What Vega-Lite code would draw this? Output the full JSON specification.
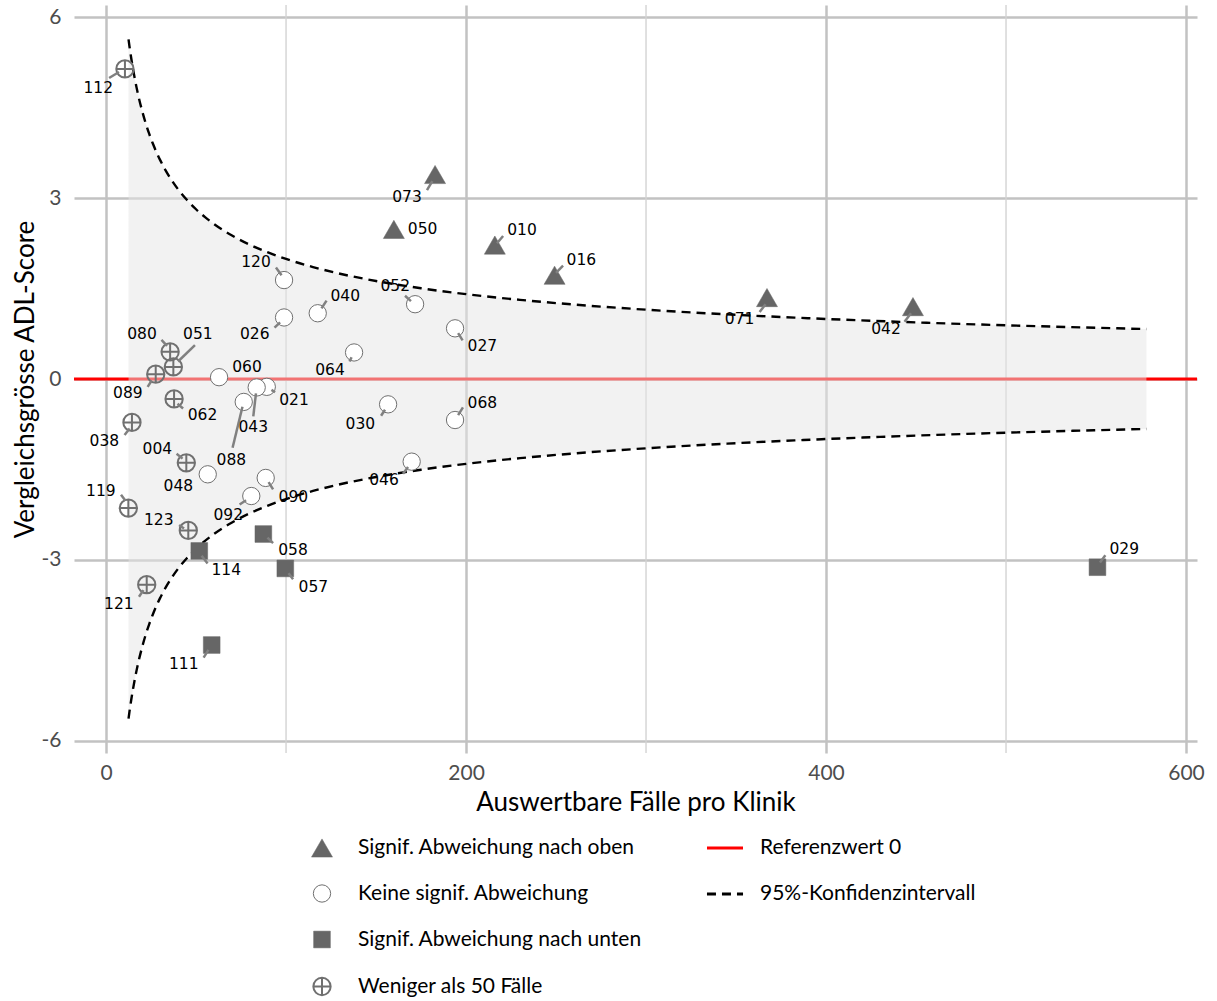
{
  "$schema": "https://vega.github.io/schema/vega-lite/v6.json",
  "width": 1123,
  "height": 748,
  "autosize": {"type": "none"},
  "padding": {"left": 74, "top": 5, "right": 20, "bottom": 248},
  "background": "white",
  "config": {
    "font": "Lato",
    "view": {"stroke": null},
    "axis": {
      "grid": true,
      "gridColor": "#c2c2c2",
      "gridWidth": 2.5,
      "domain": false,
      "ticks": false,
      "labelFont": "Lato",
      "labelFontSize": 21,
      "labelColor": "#4d4d4d",
      "titleFont": "Lato",
      "titleFontSize": 26,
      "titleFontWeight": "normal",
      "titleColor": "#000000"
    },
    "axisX": {"labelPadding": 9, "titlePadding": 6},
    "axisY": {"labelPadding": 13, "titlePadding": 3},
    "legend": {
      "labelFont": "Lato",
      "labelFontSize": 21,
      "labelColor": "#000000",
      "labelLimit": 400,
      "title": null
    }
  },
  "datasets": {
    "funnel": [
      {"n": 12.5, "hi": 5.629, "lo": -5.629},
      {"n": 13, "hi": 5.519, "lo": -5.519},
      {"n": 13.5, "hi": 5.416, "lo": -5.416},
      {"n": 14, "hi": 5.318, "lo": -5.318},
      {"n": 15, "hi": 5.138, "lo": -5.138},
      {"n": 16, "hi": 4.975, "lo": -4.975},
      {"n": 17, "hi": 4.826, "lo": -4.826},
      {"n": 18, "hi": 4.69, "lo": -4.69},
      {"n": 20, "hi": 4.45, "lo": -4.45},
      {"n": 22, "hi": 4.243, "lo": -4.243},
      {"n": 24, "hi": 4.062, "lo": -4.062},
      {"n": 26, "hi": 3.903, "lo": -3.903},
      {"n": 28, "hi": 3.761, "lo": -3.761},
      {"n": 30, "hi": 3.633, "lo": -3.633},
      {"n": 33, "hi": 3.464, "lo": -3.464},
      {"n": 36, "hi": 3.317, "lo": -3.317},
      {"n": 40, "hi": 3.146, "lo": -3.146},
      {"n": 45, "hi": 2.967, "lo": -2.967},
      {"n": 50, "hi": 2.814, "lo": -2.814},
      {"n": 55, "hi": 2.683, "lo": -2.683},
      {"n": 60, "hi": 2.569, "lo": -2.569},
      {"n": 70, "hi": 2.379, "lo": -2.379},
      {"n": 80, "hi": 2.225, "lo": -2.225},
      {"n": 90, "hi": 2.098, "lo": -2.098},
      {"n": 100, "hi": 1.99, "lo": -1.99},
      {"n": 115, "hi": 1.856, "lo": -1.856},
      {"n": 130, "hi": 1.745, "lo": -1.745},
      {"n": 150, "hi": 1.625, "lo": -1.625},
      {"n": 175, "hi": 1.504, "lo": -1.504},
      {"n": 200, "hi": 1.407, "lo": -1.407},
      {"n": 230, "hi": 1.312, "lo": -1.312},
      {"n": 260, "hi": 1.234, "lo": -1.234},
      {"n": 300, "hi": 1.149, "lo": -1.149},
      {"n": 350, "hi": 1.064, "lo": -1.064},
      {"n": 400, "hi": 0.995, "lo": -0.995},
      {"n": 450, "hi": 0.938, "lo": -0.938},
      {"n": 500, "hi": 0.89, "lo": -0.89},
      {"n": 550, "hi": 0.849, "lo": -0.849},
      {"n": 578, "hi": 0.828, "lo": -0.828}
    ],
    "kliniken": [
      {"id": "112", "n": 10.5, "score": 5.14, "cat": "Weniger als 50 Fälle", "lx": -4.3, "ly": 4.82, "sx": 7.2, "sy": 5.09, "ex": 1.7, "ey": 4.99},
      {"id": "073", "n": 182.8, "score": 3.39, "cat": "Signif. Abweichung nach oben", "lx": 167.2, "ly": 3.02, "sx": 181.3, "sy": 3.28, "ex": 178.3, "ey": 3.13},
      {"id": "050", "n": 159.9, "score": 2.48, "cat": "Signif. Abweichung nach oben", "lx": 175.9, "ly": 2.49, "sx": null, "sy": null, "ex": null, "ey": null},
      {"id": "010", "n": 216.0, "score": 2.22, "cat": "Signif. Abweichung nach oben", "lx": 231.1, "ly": 2.47, "sx": 217.2, "sy": 2.25, "ex": 220.6, "ey": 2.37},
      {"id": "016", "n": 249.2, "score": 1.72, "cat": "Signif. Abweichung nach oben", "lx": 264.1, "ly": 1.97, "sx": 250.0, "sy": 1.76, "ex": 253.9, "ey": 1.88},
      {"id": "071", "n": 367.2, "score": 1.35, "cat": "Signif. Abweichung nach oben", "lx": 352.0, "ly": 1.0, "sx": 366.4, "sy": 1.24, "ex": 363.1, "ey": 1.11},
      {"id": "042", "n": 448.3, "score": 1.2, "cat": "Signif. Abweichung nach oben", "lx": 433.3, "ly": 0.83, "sx": 447.2, "sy": 1.09, "ex": 443.6, "ey": 0.95},
      {"id": "029", "n": 550.8, "score": -3.12, "cat": "Signif. Abweichung nach unten", "lx": 565.7, "ly": -2.82, "sx": 552.2, "sy": -3.04, "ex": 555.2, "ey": -2.92},
      {"id": "120", "n": 98.9, "score": 1.64, "cat": "Keine signif. Abweichung", "lx": 83.3, "ly": 1.94, "sx": 97.5, "sy": 1.72, "ex": 94.4, "ey": 1.85},
      {"id": "052", "n": 171.7, "score": 1.24, "cat": "Keine signif. Abweichung", "lx": 160.7, "ly": 1.55, "sx": 169.4, "sy": 1.29, "ex": 166.1, "ey": 1.38},
      {"id": "040", "n": 117.6, "score": 1.09, "cat": "Keine signif. Abweichung", "lx": 132.9, "ly": 1.38, "sx": 119.7, "sy": 1.17, "ex": 122.5, "ey": 1.3},
      {"id": "026", "n": 98.9, "score": 1.02, "cat": "Keine signif. Abweichung", "lx": 82.6, "ly": 0.75, "sx": 96.7, "sy": 0.94, "ex": 93.6, "ey": 0.85},
      {"id": "027", "n": 193.9, "score": 0.84, "cat": "Keine signif. Abweichung", "lx": 209.1, "ly": 0.54, "sx": 195.6, "sy": 0.76, "ex": 198.1, "ey": 0.64},
      {"id": "064", "n": 137.8, "score": 0.44, "cat": "Keine signif. Abweichung", "lx": 124.4, "ly": 0.15, "sx": 136.4, "sy": 0.36, "ex": 135.3, "ey": 0.29},
      {"id": "080", "n": 35.6, "score": 0.45, "cat": "Weniger als 50 Fälle", "lx": 20.0, "ly": 0.75, "sx": 33.9, "sy": 0.55, "ex": 30.8, "ey": 0.65},
      {"id": "051", "n": 37.4, "score": 0.2, "cat": "Weniger als 50 Fälle", "lx": 51.0, "ly": 0.75, "sx": 40.0, "sy": 0.29, "ex": 49.4, "ey": 0.56},
      {"id": "089", "n": 27.6, "score": 0.08, "cat": "Weniger als 50 Fälle", "lx": 12.1, "ly": -0.23, "sx": 25.3, "sy": -0.03, "ex": 23.1, "ey": -0.13},
      {"id": "060", "n": 62.8, "score": 0.03, "cat": "Keine signif. Abweichung", "lx": 78.3, "ly": 0.2, "sx": null, "sy": null, "ex": null, "ey": null},
      {"id": "021", "n": 89.3, "score": -0.13, "cat": "Keine signif. Abweichung", "lx": 104.4, "ly": -0.35, "sx": 91.9, "sy": -0.18, "ex": 93.9, "ey": -0.22},
      {"id": "043", "n": 83.7, "score": -0.14, "cat": "Keine signif. Abweichung", "lx": 81.8, "ly": -0.8, "sx": 83.3, "sy": -0.24, "ex": 81.8, "ey": -0.62},
      {"id": "088", "n": 76.5, "score": -0.38, "cat": "Keine signif. Abweichung", "lx": 69.6, "ly": -1.34, "sx": 75.8, "sy": -0.46, "ex": 70.3, "ey": -1.14},
      {"id": "062", "n": 37.8, "score": -0.33, "cat": "Weniger als 50 Fälle", "lx": 53.6, "ly": -0.6, "sx": 39.7, "sy": -0.41, "ex": 42.8, "ey": -0.49},
      {"id": "030", "n": 156.7, "score": -0.42, "cat": "Keine signif. Abweichung", "lx": 141.3, "ly": -0.74, "sx": 155.0, "sy": -0.51, "ex": 152.8, "ey": -0.61},
      {"id": "068", "n": 193.9, "score": -0.68, "cat": "Keine signif. Abweichung", "lx": 209.1, "ly": -0.39, "sx": 195.6, "sy": -0.6, "ex": 198.3, "ey": -0.47},
      {"id": "038", "n": 14.4, "score": -0.72, "cat": "Weniger als 50 Fälle", "lx": -0.9, "ly": -1.03, "sx": 13.1, "sy": -0.82, "ex": 10.3, "ey": -0.93},
      {"id": "004", "n": 44.6, "score": -1.39, "cat": "Weniger als 50 Fälle", "lx": 28.5, "ly": -1.16, "sx": 42.5, "sy": -1.32, "ex": 39.2, "ey": -1.24},
      {"id": "048", "n": 56.5, "score": -1.58, "cat": "Keine signif. Abweichung", "lx": 40.2, "ly": -1.78, "sx": null, "sy": null, "ex": null, "ey": null},
      {"id": "046", "n": 169.8, "score": -1.37, "cat": "Keine signif. Abweichung", "lx": 154.4, "ly": -1.68, "sx": 167.8, "sy": -1.46, "ex": 165.0, "ey": -1.57},
      {"id": "090", "n": 88.7, "score": -1.64, "cat": "Keine signif. Abweichung", "lx": 104.1, "ly": -1.96, "sx": 90.3, "sy": -1.71, "ex": 92.8, "ey": -1.83},
      {"id": "092", "n": 80.7, "score": -1.94, "cat": "Keine signif. Abweichung", "lx": 67.9, "ly": -2.26, "sx": 77.8, "sy": -2.01, "ex": 74.2, "ey": -2.08},
      {"id": "119", "n": 12.4, "score": -2.14, "cat": "Weniger als 50 Fälle", "lx": -2.9, "ly": -1.85, "sx": 10.8, "sy": -2.02, "ex": 8.3, "ey": -1.92},
      {"id": "123", "n": 45.7, "score": -2.51, "cat": "Weniger als 50 Fälle", "lx": 29.3, "ly": -2.33, "sx": 43.3, "sy": -2.48, "ex": 40.6, "ey": -2.42},
      {"id": "114", "n": 51.8, "score": -2.85, "cat": "Signif. Abweichung nach unten", "lx": 66.8, "ly": -3.17, "sx": 53.1, "sy": -2.93, "ex": 56.4, "ey": -3.06},
      {"id": "058", "n": 87.4, "score": -2.57, "cat": "Signif. Abweichung nach unten", "lx": 103.9, "ly": -2.84, "sx": 89.7, "sy": -2.63, "ex": 92.8, "ey": -2.72},
      {"id": "057", "n": 99.6, "score": -3.14, "cat": "Signif. Abweichung nach unten", "lx": 115.2, "ly": -3.45, "sx": 101.4, "sy": -3.22, "ex": 103.9, "ey": -3.32},
      {"id": "121", "n": 22.6, "score": -3.41, "cat": "Weniger als 50 Fälle", "lx": 7.1, "ly": -3.73, "sx": 20.8, "sy": -3.5, "ex": 18.3, "ey": -3.61},
      {"id": "111", "n": 58.7, "score": -4.41, "cat": "Signif. Abweichung nach unten", "lx": 43.2, "ly": -4.72, "sx": 56.9, "sy": -4.49, "ex": 54.2, "ey": -4.62}
    ],
    "minor": [{"g": 100}, {"g": 300}, {"g": 500}]
  },
  "layer": [
    {
      "data": {"name": "minor"},
      "mark": {"type": "rule", "color": "#d3d3d3", "strokeWidth": 1.4},
      "encoding": {
        "x": {
          "field": "g", "type": "quantitative",
          "scale": {"domain": [-17.8, 606.1], "nice": false, "zero": false},
          "axis": {"values": [0, 200, 400, 600], "labelExpr": "datum.value + ''"},
          "title": "Auswertbare Fälle pro Klinik"
        }
      }
    },
    {
      "data": {"values": [{}]},
      "mark": {"type": "rule", "strokeWidth": 3},
      "encoding": {
        "y": {
          "datum": 0, "type": "quantitative",
          "scale": {"domain": [-6.2, 6.2], "nice": false, "zero": false},
          "axis": {"values": [-6, -3, 0, 3, 6], "labelExpr": "datum.value + ''"},
          "title": "Vergleichsgrösse ADL-Score"
        },
        "color": {
          "datum": "Referenzwert 0",
          "type": "nominal",
          "scale": {"domain": ["Referenzwert 0", "95%-Konfidenzintervall"], "range": ["#ff0000", "#000000"]},
          "legend": {"orient": "none", "legendX": 631, "legendY": 823, "symbolType": "stroke", "symbolSize": 1300, "symbolStrokeWidth": 3, "labelOffset": 15, "rowPadding": 16, "title": null,
            "encode": {"symbols": {"update": {"strokeDash": {"signal": "datum.value === 'Referenzwert 0' ? [1, 0] : [12, 9]"}}}}}
        },
        "strokeDash": {
          "datum": "Referenzwert 0",
          "type": "nominal",
          "scale": {"domain": ["Referenzwert 0", "95%-Konfidenzintervall"], "range": [[1, 0], [9, 6]]},
          "legend": {"orient": "none", "legendX": 631, "legendY": 823, "symbolType": "stroke", "symbolSize": 1300, "symbolStrokeWidth": 3, "labelOffset": 15, "rowPadding": 16, "title": null,
            "encode": {"symbols": {"update": {"strokeDash": {"signal": "datum.value === 'Referenzwert 0' ? [1, 0] : [12, 9]"}}}}}
        }
      }
    },
    {
      "data": {"name": "funnel"},
      "mark": {"type": "area", "color": "#e5e5e5", "opacity": 0.5, "interpolate": "monotone"},
      "encoding": {
        "x": {"field": "n", "type": "quantitative", "title": "Auswertbare Fälle pro Klinik"},
        "y": {"field": "lo", "type": "quantitative", "title": "Vergleichsgrösse ADL-Score"},
        "y2": {"field": "hi"}
      }
    },
    {
      "data": {"name": "funnel"},
      "mark": {"type": "line", "strokeWidth": 2.4, "interpolate": "monotone"},
      "encoding": {
        "x": {"field": "n", "type": "quantitative", "title": "Auswertbare Fälle pro Klinik"},
        "y": {"field": "hi", "type": "quantitative", "title": "Vergleichsgrösse ADL-Score"},
        "color": {"datum": "95%-Konfidenzintervall", "type": "nominal"},
        "strokeDash": {"datum": "95%-Konfidenzintervall", "type": "nominal"}
      }
    },
    {
      "data": {"name": "funnel"},
      "mark": {"type": "line", "strokeWidth": 2.4, "interpolate": "monotone"},
      "encoding": {
        "x": {"field": "n", "type": "quantitative", "title": "Auswertbare Fälle pro Klinik"},
        "y": {"field": "lo", "type": "quantitative", "title": "Vergleichsgrösse ADL-Score"},
        "color": {"datum": "95%-Konfidenzintervall", "type": "nominal"},
        "strokeDash": {"datum": "95%-Konfidenzintervall", "type": "nominal"}
      }
    },
    {
      "data": {"name": "kliniken"},
      "mark": {"type": "point", "filled": true, "opacity": 1},
      "encoding": {
        "x": {"field": "n", "type": "quantitative", "title": "Auswertbare Fälle pro Klinik"},
        "y": {"field": "score", "type": "quantitative", "title": "Vergleichsgrösse ADL-Score"},
        "shape": {
          "field": "cat", "type": "nominal",
          "scale": {"domain": ["Signif. Abweichung nach oben", "Keine signif. Abweichung", "Signif. Abweichung nach unten", "Weniger als 50 Fälle"], "range": ["triangle-up", "circle", "square", "M-1,0A1,1,0,1,1,1,0A1,1,0,1,1,-1,0ZM-1,0L1,0M0,-1L0,1"]},
          "legend": {"orient": "none", "legendX": 237, "legendY": 832, "labelOffset": 25, "rowPadding": 23, "title": null}
        },
        "fill": {
          "field": "cat", "type": "nominal",
          "scale": {"domain": ["Signif. Abweichung nach oben", "Keine signif. Abweichung", "Signif. Abweichung nach unten", "Weniger als 50 Fälle"], "range": ["#666666", "#ffffff", "#666666", "transparent"]},
          "legend": {"orient": "none", "legendX": 237, "legendY": 832, "labelOffset": 25, "rowPadding": 23, "title": null}
        },
        "stroke": {
          "field": "cat", "type": "nominal",
          "scale": {"domain": ["Signif. Abweichung nach oben", "Keine signif. Abweichung", "Signif. Abweichung nach unten", "Weniger als 50 Fälle"], "range": ["#666666", "#707070", "#666666", "#707070"]},
          "legend": {"orient": "none", "legendX": 237, "legendY": 832, "labelOffset": 25, "rowPadding": 23, "title": null}
        },
        "size": {
          "field": "cat", "type": "nominal",
          "scale": {"type": "ordinal", "domain": ["Signif. Abweichung nach oben", "Keine signif. Abweichung", "Signif. Abweichung nach unten", "Weniger als 50 Fälle"], "range": [441, 300, 280, 300]},
          "legend": {"orient": "none", "legendX": 237, "legendY": 832, "labelOffset": 25, "rowPadding": 23, "title": null}
        },
        "strokeWidth": {
          "field": "cat", "type": "nominal",
          "scale": {"type": "ordinal", "domain": ["Signif. Abweichung nach oben", "Keine signif. Abweichung", "Signif. Abweichung nach unten", "Weniger als 50 Fälle"], "range": [0.5, 1, 0.5, 2]},
          "legend": {"orient": "none", "legendX": 237, "legendY": 832, "labelOffset": 25, "rowPadding": 23, "title": null}
        }
      }
    },
    {
      "data": {"name": "kliniken"},
      "transform": [{"filter": "datum.sx != null"}],
      "mark": {"type": "rule", "color": "#808080", "strokeWidth": 2.5},
      "encoding": {
        "x": {"field": "sx", "type": "quantitative", "title": "Auswertbare Fälle pro Klinik"},
        "y": {"field": "sy", "type": "quantitative", "title": "Vergleichsgrösse ADL-Score"},
        "x2": {"field": "ex"},
        "y2": {"field": "ey"}
      }
    },
    {
      "data": {"name": "kliniken"},
      "mark": {"type": "text", "font": "DejaVu Sans", "fontSize": 15.5, "color": "#000000", "align": "center", "baseline": "middle"},
      "encoding": {
        "x": {"field": "lx", "type": "quantitative", "title": "Auswertbare Fälle pro Klinik"},
        "y": {"field": "ly", "type": "quantitative", "title": "Vergleichsgrösse ADL-Score"},
        "text": {"field": "id", "type": "nominal"}
      }
    }
  ]
}
